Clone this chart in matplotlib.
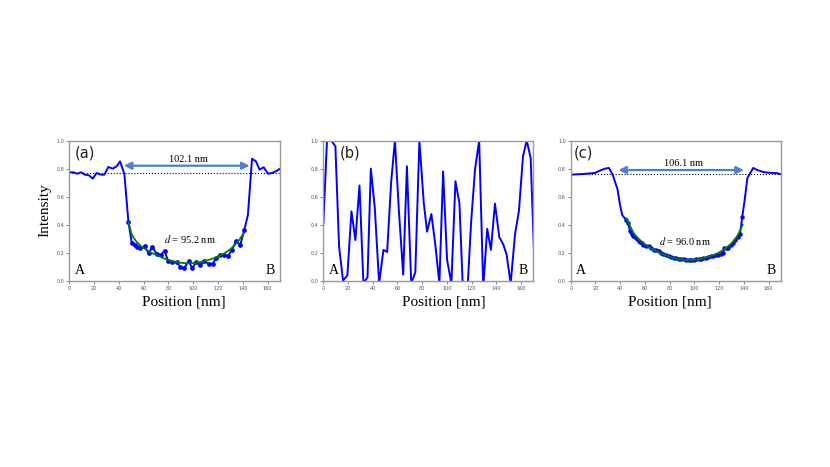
import matplotlib
matplotlib.use("Agg")
import matplotlib.pyplot as plt

plt.rcParams["mathtext.fontset"] = "stix"

# panel (a)
x_a = [0, 3.2, 6.5, 9.4, 12.7, 15.9, 18.9, 22, 25.6, 28.3, 31.5, 35, 38.2, 41, 44.4,
       47.7, 50.4, 53.2, 55, 57.2, 60.8, 64, 67, 70.6, 73.8, 76.8, 79.8, 83, 86.6,
       89.6, 92.7, 96.2, 99.2, 102.4, 105.6, 109, 112.3, 115.6, 118.5, 121.8, 125,
       128, 131.2, 134.5, 138, 141.2, 144.1, 147.4, 150.6, 153.5, 156.8, 160.3,
       163.6, 167.6, 170]
y_a = [0.774, 0.774, 0.764, 0.774, 0.757, 0.752, 0.729, 0.769, 0.757, 0.757, 0.812,
       0.8, 0.817, 0.852, 0.762, 0.419, 0.27, 0.255, 0.243, 0.233, 0.245, 0.195,
       0.24, 0.188, 0.183, 0.214, 0.137, 0.13, 0.13, 0.1, 0.09, 0.138, 0.09, 0.133,
       0.114, 0.14, 0.12, 0.12, 0.162, 0.186, 0.186, 0.174, 0.221, 0.28, 0.257,
       0.364, 0.47, 0.871, 0.852, 0.793, 0.81, 0.764, 0.769, 0.786, 0.8]
fit_x_a = [47.7, 50, 52, 55, 58, 62, 66, 71, 76, 81, 87, 92, 97, 102, 108, 113,
           119, 125, 130, 134, 137, 140.6]
fit_y_a = [0.42, 0.34, 0.305, 0.27, 0.245, 0.222, 0.2, 0.18, 0.16, 0.145, 0.132,
           0.126, 0.124, 0.127, 0.137, 0.15, 0.168, 0.195, 0.225, 0.26, 0.29, 0.338]

# panel (b)
x_b = [0, 3, 6.5, 9.8, 12.8, 16, 19.5, 22.8, 26, 29.3, 32.5, 35.8, 38.5, 41.7, 45.2,
       48.7, 51.7, 55, 58, 61.2, 64.7, 67.7, 71.2, 74.5, 77.8, 81.3, 84, 87.5, 90.7,
       94, 97, 100.2, 103.7, 107, 110.2, 113.2, 116.5, 119.7, 122.9, 126.2, 129.5,
       132.7, 135.7, 139, 142.5, 145.7, 148.4, 151.7, 155.2, 158.4, 161.7, 164.7,
       167.9, 171.4]
y_b = [0.4, 1.0, 1.0, 0.96, 0.24, 0.0, 0.038, 0.495, 0.29, 0.68, -0.02, 0.024, 0.8,
       0.52, -0.02, 0.22, 0.205, 0.71, 1.0, 0.5, 0.043, 0.817, -0.02, 0.06, 1.0, 0.56,
       0.35, 0.476, 0.257, -0.02, 0.78, 0.15, -0.02, 0.71, 0.555, -0.1, -0.1, 0.42,
       0.8, 1.0, -0.05, 0.37, 0.22, 0.55, 0.31, 0.26, 0.186, -0.02, 0.33, 0.5, 0.89,
       1.0, 0.876, 0.0]

# panel (c)
x_c = [0, 10, 19.5, 23.6, 27.7, 30.9, 33.9, 37.9, 39.8, 41.7, 44.7, 46.4, 48, 49.4,
       50.7, 52, 53.4, 54.8, 56.1, 57.5, 58.8, 60.8, 62.9, 65, 67, 69, 71, 73, 75,
       77, 79.2, 81.2, 83.2, 85.2, 87.3, 89.3, 91.3, 93.3, 95.3, 97.3, 99.3, 101.3,
       103.3, 105.3, 107.3, 109.3, 111.3, 113.3, 115.3, 117.3, 119.3, 121.5, 123,
       124.2, 126, 127.5, 129.6, 131.3, 133, 135, 136.8, 138.6, 140.3, 142.8, 147.5,
       151, 156, 161.3, 166.7, 170]
y_c = [0.757, 0.762, 0.769, 0.786, 0.8, 0.805, 0.757, 0.65, 0.543, 0.467, 0.436,
       0.41, 0.352, 0.33, 0.317, 0.31, 0.3, 0.285, 0.276, 0.27, 0.257, 0.25, 0.245,
       0.232, 0.221, 0.218, 0.21, 0.198, 0.19, 0.182, 0.174, 0.17, 0.165, 0.16,
       0.157, 0.154, 0.152, 0.15, 0.15, 0.151, 0.15, 0.152, 0.154, 0.158, 0.16,
       0.165, 0.17, 0.176, 0.178, 0.18, 0.185, 0.19, 0.2, 0.23, 0.23, 0.232, 0.255,
       0.27, 0.29, 0.31, 0.33, 0.453, 0.555, 0.733, 0.805, 0.79, 0.775, 0.77, 0.768,
       0.76]
fit_x_c = [45, 48, 51, 55, 59, 64, 70, 75, 81, 86, 92, 97, 102.5, 108, 113.4, 119,
           124.2, 128.5, 132.4, 135, 137, 139]
fit_y_c = [0.445, 0.39, 0.338, 0.295, 0.267, 0.235, 0.207, 0.187, 0.167, 0.157,
           0.148, 0.147, 0.152, 0.162, 0.176, 0.197, 0.224, 0.255, 0.29, 0.325,
           0.36, 0.4]

ticks_x = [0, 20, 40, 60, 80, 100, 120, 140, 160]
ticks_y = [0.0, 0.2, 0.4, 0.6, 0.8, 1.0]

serif = "Liberation Serif"
blue = "#0000ff"
arrow_col = "#4f81c8"

fig = plt.figure(figsize=(8.3, 4.67), dpi=100)
ax_a = fig.add_axes([0.0835, 0.399, 0.2539, 0.2998])
ax_b = fig.add_axes([0.3895, 0.399, 0.2530, 0.2998])
ax_c = fig.add_axes([0.6876, 0.399, 0.2534, 0.2998])


def style(ax, tag, tag_x, label_x):
    ax.set_xlim(0, 170)
    ax.set_ylim(0, 1.0)
    ax.set_xticks(ticks_x)
    ax.set_yticks(ticks_y)
    ax.set_yticklabels(["%.1f" % t for t in ticks_y])
    ax.tick_params(labelsize=3.5, colors="#555555", length=2, width=0.5, pad=1.5)
    for s in ax.spines.values():
        s.set_color("#999999")
        s.set_linewidth(1.0)
    ax.set_xlabel("Position [nm]", fontsize=11, family=serif)
    ax.xaxis.set_label_coords(label_x, -0.105)
    ax.text(tag_x, 0.965, tag, transform=ax.transAxes, fontsize=10.5, va="top",
            ha="left", color="#222222")
    ax.text(0.025, 0.025, "A", transform=ax.transAxes, fontsize=10, family=serif,
            va="bottom", ha="left")
    ax.text(0.975, 0.025, "B", transform=ax.transAxes, fontsize=10, family=serif,
            va="bottom", ha="right")


def dots(x, y, lo, hi):
    xs = [a for a, b in zip(x, y) if lo <= a <= hi]
    ys = [b for a, b in zip(x, y) if lo <= a <= hi]
    return xs, ys


# (a)
ax_a.axhline(0.772, color="black", ls=":", lw=0.8)
ax_a.plot(x_a, y_a, color=blue, lw=1.4)
dx, dy = dots(x_a, y_a, 46, 142)
ax_a.plot(dx, dy, "o", color=blue, ms=2.4)
ax_a.plot(fit_x_a, fit_y_a, color="green", lw=1.3)
ax_a.annotate("", xy=(145.5, 0.821), xytext=(44, 0.821),
              arrowprops=dict(arrowstyle="<|-|>", color=arrow_col, lw=1.6,
                              mutation_scale=11, shrinkA=0, shrinkB=0))
ax_a.text(96, 0.835, "102.1 nm", fontsize=7.5, family=serif, ha="center", va="bottom")
ax_a.text(97, 0.295, r"$d$ = 95.2 nm", fontsize=7.5, family=serif, ha="center",
          va="center")
ax_a.set_ylabel("Intensity", fontsize=11, family=serif)
ax_a.yaxis.set_label_coords(-0.085, 0.5)
style(ax_a, "(a)", 0.024, 0.544)

# (b)
ax_b.plot(x_b, y_b, color=blue, lw=1.4)
style(ax_b, "(b)", 0.08, 0.575)

# (c)
ax_c.axhline(0.76, color="black", ls=":", lw=0.8)
ax_c.plot(x_c, y_c, color=blue, lw=1.4)
dx, dy = dots(x_c, y_c, 44, 139)
ax_c.plot(dx, dy, "o", color=blue, ms=2.2)
ax_c.plot(fit_x_c, fit_y_c, color="green", lw=1.3)
ax_c.annotate("", xy=(140, 0.79), xytext=(38.5, 0.79),
              arrowprops=dict(arrowstyle="<|-|>", color=arrow_col, lw=1.6,
                              mutation_scale=11, shrinkA=0, shrinkB=0))
ax_c.text(91, 0.805, "106.1 nm", fontsize=7.5, family=serif, ha="center", va="bottom")
ax_c.text(92, 0.28, r"$d$ = 96.0 nm", fontsize=7.5, family=serif, ha="center",
          va="center")
style(ax_c, "(c)", 0.015, 0.472)

fig.savefig("out.png", dpi=100)
